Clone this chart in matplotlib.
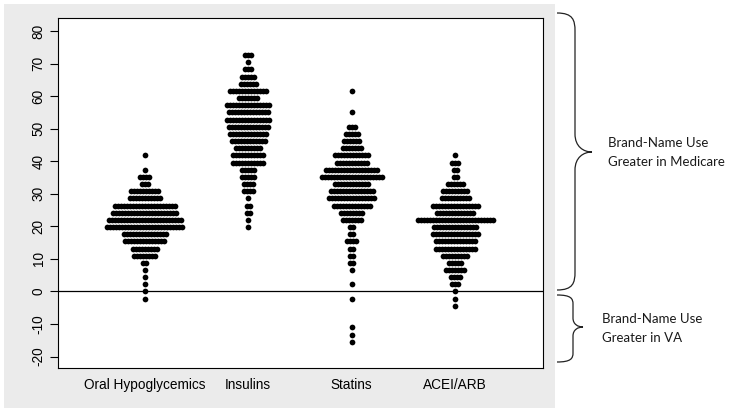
import numpy as np
import matplotlib.pyplot as plt
from matplotlib.patches import Rectangle, PathPatch
from matplotlib.path import Path

# groups on the x axis
categories = ["Oral Hypoglycemics", "Insulins", "Statins", "ACEI/ARB"]

# each group: row values (y) and how many points sit in that row
oral_levels = [41.8, 37.4, 35.2, 33.0, 30.8, 28.6, 26.4, 24.2, 22.0, 19.8, 17.6, 15.4,
               13.2, 11.0, 8.8, 6.6, 4.4, 2.2, 0.0, -2.2]
oral_counts = [1, 1, 4, 3, 10, 11, 21, 22, 25, 26, 15, 14, 9, 8, 2, 1, 1, 1, 1, 1]

insulin_levels = [72.6, 70.4, 68.2, 66.0, 63.8, 61.6, 59.4, 57.2, 55.0, 52.8, 50.6, 48.4,
                  46.2, 44.0, 41.8, 39.6, 37.4, 35.2, 33.0, 30.8, 28.6, 26.4, 24.2, 22.0, 19.8]
insulin_counts = [3, 1, 3, 5, 6, 13, 7, 15, 14, 15, 14, 13, 12, 9, 11, 11, 5, 5, 4, 4,
                  1, 2, 2, 1, 1]

statin_levels = [61.6, 55.0, 50.6, 48.4, 46.2, 44.0, 41.8, 39.6, 37.4, 35.2, 33.0, 30.8,
                 28.6, 26.4, 24.2, 22.0, 19.8, 17.6, 15.4, 13.2, 11.0, 8.8, 6.6, 2.2,
                 -2.4, -11.0, -13.4, -15.6]
statin_counts = [1, 1, 3, 5, 6, 7, 12, 11, 18, 21, 12, 15, 16, 13, 8, 7, 2, 2, 4, 2, 2, 2,
                 1, 1, 1, 1, 1, 1]

acei_levels = [41.8, 39.6, 37.4, 35.2, 33.0, 30.8, 28.6, 26.4, 24.2, 22.0, 19.8, 17.6,
               15.4, 13.2, 11.0, 8.8, 6.6, 4.4, 2.2, 0.0, -2.2, -4.4]
acei_counts = [1, 3, 2, 2, 6, 9, 10, 16, 13, 26, 15, 16, 14, 14, 9, 5, 7, 4, 3, 1, 1, 1]

yticks = [-20, -10, 0, 10, 20, 30, 40, 50, 60, 70, 80]

groups = [(oral_levels, oral_counts), (insulin_levels, insulin_counts),
          (statin_levels, statin_counts), (acei_levels, acei_counts)]

W, H = 729, 413
plt.rcParams['font.family'] = ['Liberation Sans', 'DejaVu Sans']
fig = plt.figure(figsize=(W / 100, H / 100), dpi=100)

def fx(px):
    return px / W

def fy(py):
    return 1 - py / H

# gray panel behind the plot
fig.patches.append(Rectangle((fx(4), fy(408)), fx(551), 404 / H,
                             transform=fig.transFigure, facecolor='#ebebeb',
                             edgecolor='none', zorder=-10))

ax = fig.add_axes([fx(58), fy(368), fx(543 - 58), (368 - 18) / H])
ax.set_facecolor('white')

step = 0.029  # horizontal spacing of stacked dots in one row
for i, (levels, counts) in enumerate(groups):
    xs, ys = [], []
    for lv, n in zip(levels, counts):
        offs = (np.arange(n) - (n - 1) / 2) * step
        xs.extend(i + 1 + offs)
        ys.extend([lv] * n)
    ax.scatter(xs, ys, s=17, color='black', linewidths=0, zorder=3)

ax.axhline(0, color='black', lw=0.9, zorder=2)

ax.set_xlim(0.16, 4.85)
ax.set_ylim(-23.5, 84)
ax.set_yticks(yticks)
ax.set_yticklabels([str(t) for t in yticks], rotation=90, va='center', fontsize=9.8)
ax.set_xticks([1, 2, 3, 4])
ax.set_xticklabels(categories, fontsize=9.8)
ax.tick_params(axis='x', length=0, pad=7)
ax.tick_params(axis='y', length=6, width=0.8, pad=3)
for sp in ax.spines.values():
    sp.set_linewidth(0.8)
    sp.set_color('black')

def brace(x_end, y_top, y_bot, x_mid, x_tip, y_tip, r):
    verts = [
        (x_end, y_top),
        (x_mid - 2, y_top), (x_mid, y_top + r * 0.4), (x_mid, y_top + r),
        (x_mid, y_tip - r),
        (x_mid, y_tip - r * 0.3), (x_tip - (x_tip - x_mid) * 0.5, y_tip), (x_tip, y_tip),
        (x_tip - (x_tip - x_mid) * 0.5, y_tip), (x_mid, y_tip + r * 0.3), (x_mid, y_tip + r),
        (x_mid, y_bot - r),
        (x_mid, y_bot - r * 0.4), (x_mid - 2, y_bot), (x_end, y_bot),
    ]
    codes = [Path.MOVETO,
             Path.CURVE4, Path.CURVE4, Path.CURVE4,
             Path.LINETO,
             Path.CURVE4, Path.CURVE4, Path.CURVE4,
             Path.CURVE4, Path.CURVE4, Path.CURVE4,
             Path.LINETO,
             Path.CURVE4, Path.CURVE4, Path.CURVE4]
    verts = [(fx(a), fy(b)) for a, b in verts]
    fig.patches.append(PathPatch(Path(verts, codes), transform=fig.transFigure,
                                 facecolor='none', edgecolor='#222222', lw=0.9))

brace(557, 13, 290, 575, 592, 152, 18)
brace(557, 295, 362, 573, 583, 327, 9)

note_font = dict(family=['Lato', 'DejaVu Sans'], fontsize=9.5, color='#1a1a1a', va='center')
fig.text(fx(608), fy(143), "Brand-Name Use", **note_font)
fig.text(fx(608), fy(162), "Greater in Medicare", **note_font)
fig.text(fx(602), fy(319), "Brand-Name Use", **note_font)
fig.text(fx(602), fy(338), "Greater in VA", **note_font)

fig.savefig("out.png", dpi=100)
